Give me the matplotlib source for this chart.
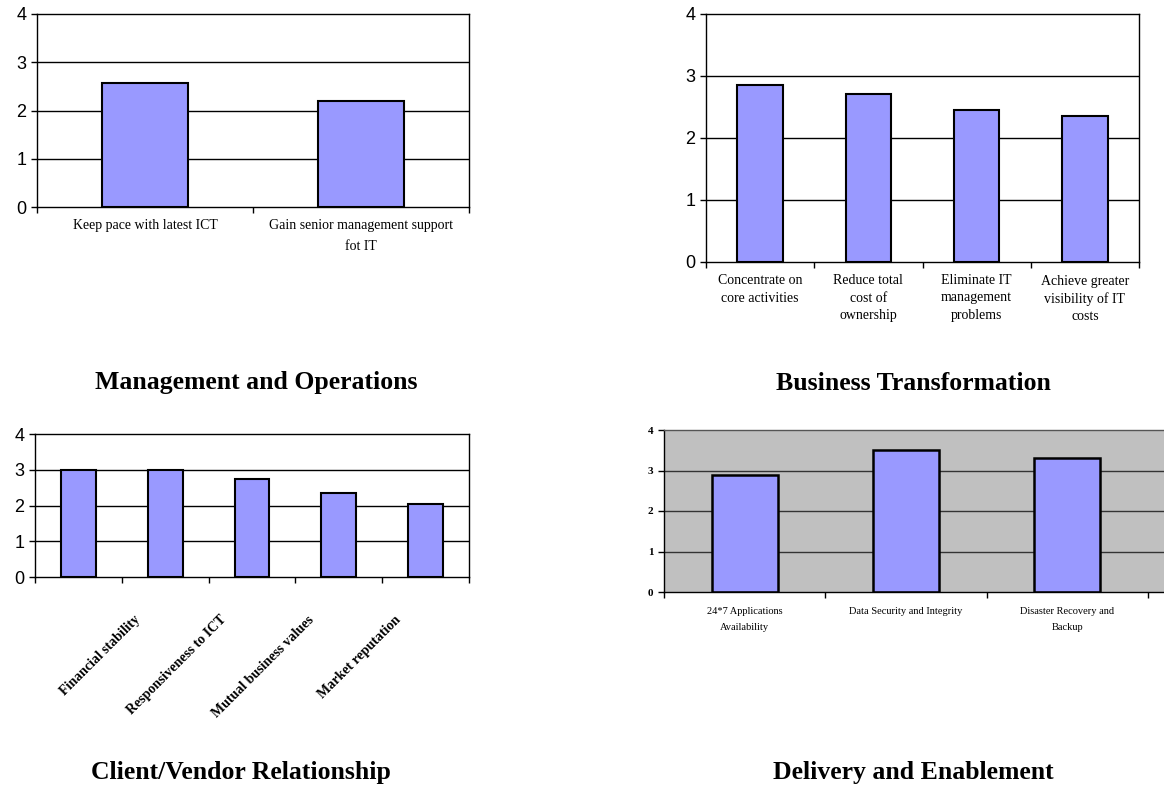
import matplotlib
matplotlib.use("Agg")
import matplotlib.pyplot as plt
import matplotlib.transforms as mtransforms
import numpy as np

# data
mgmt_labels = ["Keep pace with latest ICT", "Gain senior management support\nfot IT"]
mgmt_vals = [2.57, 2.19]

biz_labels = ["Concentrate on\ncore activities", "Reduce total\ncost of\nownership",
              "Eliminate IT\nmanagement\nproblems", "Achieve greater\nvisibility of IT\ncosts"]
biz_vals = [2.85, 2.71, 2.45, 2.36]

client_labels = ["Financial stability", "Responsiveness to ICT", "Mutual business values",
                 "Market reputation", ""]
client_vals = [3.0, 2.99, 2.74, 2.34, 2.05]

deliv_labels = ["24*7 Applications\nAvailability", "Data Security and Integrity",
                "Disaster Recovery and\nBackup"]
deliv_vals = [2.89, 3.5, 3.3]

titles = ["Management and Operations", "Business Transformation",
          "Client/Vendor Relationship", "Delivery and Enablement"]

W, H = 1164, 788
fig = plt.figure(figsize=(W / 100, H / 100), dpi=100)
BAR = "#9999ff"
SERIF = "Liberation Serif"
SANS = "Liberation Sans"


def px_axes(l, t, r, b):
    return fig.add_axes([l / W, 1 - b / H, (r - l) / W, (b - t) / H])


def style(ax, n, gray=False):
    ax.set_ylim(0, 4)
    ax.set_yticks(range(5))
    for y in (1, 2, 3):
        ax.axhline(y, color="#333333" if gray else "black", lw=1.0, zorder=1)
    for s in ax.spines.values():
        s.set_color("#555555" if gray else "black")
        s.set_linewidth(1.0)
    ax.set_xticks(np.arange(n + 1) - 0.5, minor=True)
    ax.set_xticks(np.arange(n))
    ax.tick_params(axis="x", which="major", length=0)
    ax.tick_params(axis="x", which="minor", length=4, width=1, direction="out")
    ax.tick_params(axis="y", length=4, width=1, direction="out")


# Management and Operations
ax1 = px_axes(37, 14, 469, 207)
x = np.arange(len(mgmt_vals))
ax1.bar(x, mgmt_vals, width=0.4, color=BAR, edgecolor="black", lw=1.5, zorder=2)
ax1.set_xlim(-0.5, len(mgmt_vals) - 0.5)
style(ax1, len(mgmt_vals))
ax1.set_xticklabels(mgmt_labels, family=SERIF, fontsize=10, linespacing=1.8)
ax1.tick_params(axis="x", pad=9)
ax1.set_yticklabels(range(5), family=SANS, fontsize=13)

# Business Transformation
ax2 = px_axes(706, 14, 1139, 262)
x = np.arange(len(biz_vals))
ax2.bar(x, biz_vals, width=0.42, color=BAR, edgecolor="black", lw=1.5, zorder=2)
ax2.set_xlim(-0.5, len(biz_vals) - 0.5)
style(ax2, len(biz_vals))
ax2.set_xticklabels(biz_labels, family=SERIF, fontsize=10, linespacing=1.4)
ax2.tick_params(axis="x", pad=9)
ax2.set_yticklabels(range(5), family=SANS, fontsize=13)

# Client/Vendor Relationship
ax3 = px_axes(35, 434, 469, 577)
x = np.arange(len(client_vals))
ax3.bar(x, client_vals, width=0.4, color=BAR, edgecolor="black", lw=1.5, zorder=2)
ax3.set_xlim(-0.5, len(client_vals) - 0.5)
style(ax3, len(client_vals))
ax3.set_xticklabels([])
ax3.set_yticklabels(range(5), family=SANS, fontsize=13)
off = mtransforms.ScaledTranslation(0.55, -0.36, fig.dpi_scale_trans)
for i, lab in enumerate(client_labels):
    ax3.text(i, 0, lab, transform=ax3.get_xaxis_transform() + off, rotation=45,
             ha="right", va="top", rotation_mode="anchor", family=SERIF,
             fontsize=10, fontweight="bold")

# Delivery and Enablement
ax4 = px_axes(664, 430, 1164, 592)
x = np.arange(len(deliv_vals))
ax4.set_facecolor("#c0c0c0")
ax4.bar(x, deliv_vals, width=0.41, color=BAR, edgecolor="black", lw=1.8, zorder=2)
ax4.set_xlim(-0.5, len(deliv_vals) - 0.4)
style(ax4, len(deliv_vals), gray=True)
ax4.spines["right"].set_visible(False)
ax4.spines["left"].set_color("black")
ax4.spines["bottom"].set_color("black")
ax4.set_xticklabels(deliv_labels, family=SERIF, fontsize=7.5, linespacing=2.0)
ax4.tick_params(axis="x", pad=11)
ax4.set_yticklabels(range(5), family=SERIF, fontsize=8, fontweight="bold")

# titles
for (tx, ty), t in zip([(256, 383), (913, 383), (241, 773), (913, 773)], titles):
    fig.text(tx / W, 1 - ty / H, t, ha="center", va="center", family=SERIF,
             fontsize=18.5, fontweight="bold")

fig.savefig("out.png", dpi=100)
